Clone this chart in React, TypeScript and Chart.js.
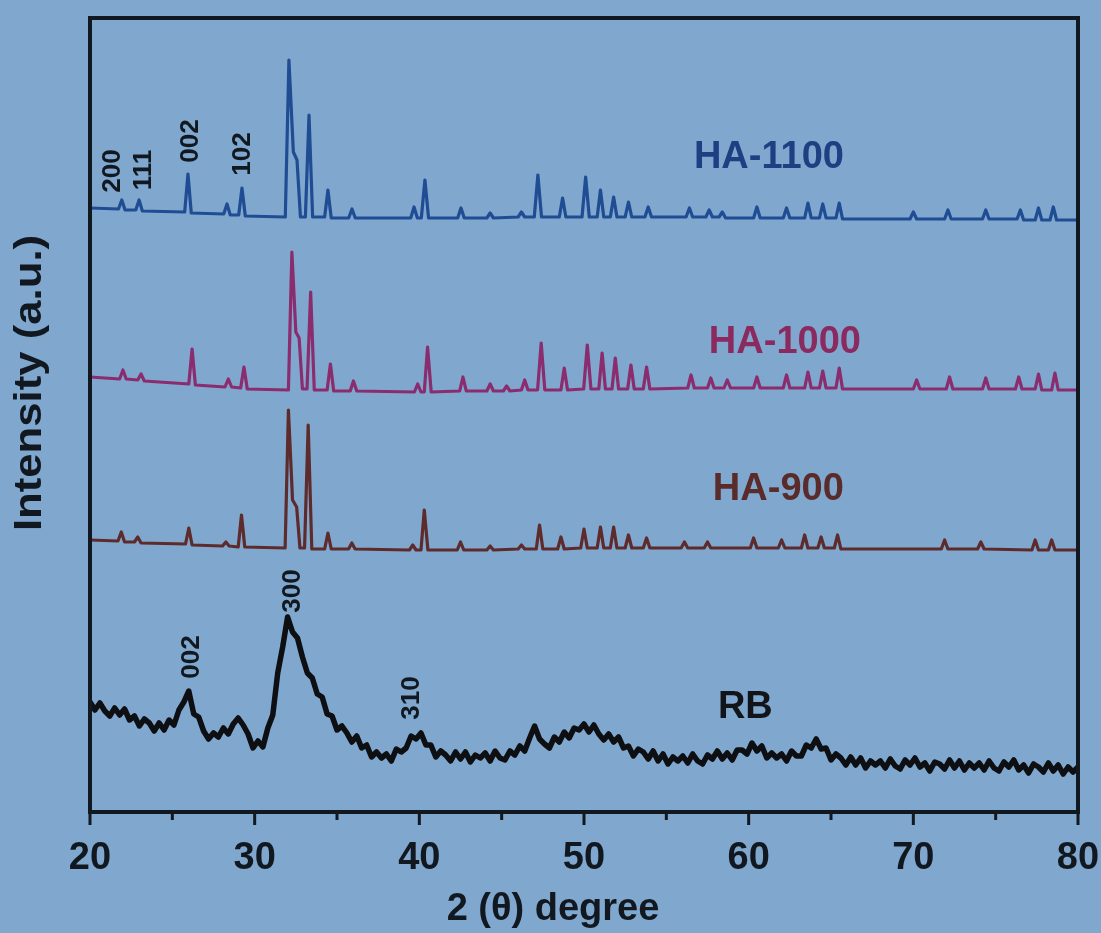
import React, { useEffect, useRef } from 'react';
import { Chart, registerables } from 'chart.js';

Chart.register(...registerables);

// ---------- axis settings ----------
const X_MIN = 20;
const X_MAX = 80;
const Y_MIN = 0;
const Y_MAX = 794;
const xMajorTicks = [20, 30, 40, 50, 60, 70, 80];
const xMinorTicks = [25, 35, 45, 55, 65, 75];
const X_TITLE = '2 (θ) degree';
const Y_TITLE = 'Intensity (a.u.)';

// ---------- series data: [2θ, intensity (a.u., stacked offset)] ----------
const ha1100: [number, number][] = [
  [20, 604], [21.73, 603], [21.93, 612], [22.13, 602], [22.78, 602], [22.98, 612], [23.18, 601],
  [25.75, 600], [25.95, 638], [26.15, 599], [28.12, 598], [28.32, 608], [28.52, 597],
  [29.03, 597], [29.23, 624], [29.43, 596], [31.86, 595], [32.08, 752], [32.35, 660], [32.57, 652],
  [32.78, 595], [33.08, 595], [33.3, 697], [33.52, 595], [34.25, 595], [34.45, 622], [34.65, 594],
  [35.71, 594], [35.91, 603], [36.11, 594], [39.48, 594], [39.68, 605], [39.88, 594],
  [40.12, 594], [40.34, 632], [40.56, 594], [42.33, 594], [42.53, 604], [42.73, 594],
  [44.1, 594], [44.3, 599], [44.5, 594], [46.0, 595], [46.2, 600], [46.4, 595],
  [46.98, 595], [47.2, 637], [47.42, 595], [48.5, 595], [48.7, 614], [48.9, 595],
  [49.88, 595], [50.1, 635], [50.32, 595], [50.8, 595], [51.0, 622], [51.2, 595],
  [51.6, 595], [51.8, 615], [52.0, 595], [52.5, 595], [52.7, 610], [52.9, 595],
  [53.7, 595], [53.9, 605], [54.1, 595], [56.2, 595], [56.4, 604], [56.6, 595],
  [57.4, 595], [57.6, 602], [57.8, 595], [58.2, 595], [58.4, 600], [58.6, 594],
  [60.3, 594], [60.5, 605], [60.7, 594], [62.1, 594], [62.3, 604], [62.5, 594],
  [63.4, 594], [63.6, 609], [63.8, 594], [64.3, 594], [64.5, 608], [64.7, 594],
  [65.3, 594], [65.5, 609], [65.7, 593], [69.8, 593], [70.0, 600], [70.2, 593],
  [71.9, 593], [72.1, 602], [72.3, 593], [74.2, 593], [74.4, 602], [74.6, 593],
  [76.3, 593], [76.5, 602], [76.7, 592], [77.4, 592], [77.6, 604], [77.8, 592],
  [78.3, 592], [78.5, 605], [78.7, 592], [80, 592],
];

const ha1000: [number, number][] = [
  [20, 435], [21.8, 433], [22.0, 442], [22.2, 433], [22.9, 432], [23.1, 438], [23.3, 431],
  [26.0, 428], [26.2, 463], [26.4, 427], [28.2, 425], [28.4, 433], [28.6, 425],
  [29.15, 424], [29.35, 445], [29.55, 423], [32.05, 422], [32.26, 560], [32.5, 480], [32.7, 474],
  [32.9, 423], [33.18, 423], [33.4, 520], [33.62, 422], [34.4, 422], [34.6, 448], [34.8, 421],
  [35.8, 421], [36.0, 431], [36.2, 421], [39.7, 420], [39.9, 428], [40.1, 420],
  [40.3, 420], [40.5, 465], [40.72, 420], [42.45, 421], [42.65, 435], [42.85, 421],
  [44.1, 421], [44.3, 428], [44.5, 421], [45.1, 421], [45.3, 426], [45.5, 421],
  [46.2, 422], [46.4, 432], [46.6, 422], [47.18, 422], [47.4, 469], [47.62, 422],
  [48.6, 422], [48.8, 444], [49.0, 422], [49.98, 423], [50.2, 467], [50.42, 423],
  [50.9, 423], [51.1, 459], [51.3, 423], [51.7, 423], [51.9, 454], [52.1, 423],
  [52.65, 423], [52.85, 447], [53.05, 423], [53.6, 423], [53.8, 445], [54.0, 423],
  [56.3, 424], [56.5, 437], [56.7, 424], [57.5, 424], [57.7, 434], [57.9, 424],
  [58.5, 424], [58.7, 432], [58.9, 424], [60.3, 424], [60.5, 435], [60.7, 424],
  [62.1, 424], [62.3, 437], [62.5, 424], [63.4, 424], [63.6, 440], [63.8, 424],
  [64.3, 424], [64.5, 441], [64.7, 424], [65.3, 424], [65.5, 444], [65.7, 423],
  [70.0, 423], [70.2, 432], [70.4, 423], [72.0, 423], [72.2, 435], [72.4, 423],
  [74.2, 423], [74.4, 434], [74.6, 423], [76.2, 423], [76.4, 435], [76.6, 423],
  [77.4, 423], [77.6, 438], [77.8, 422], [78.4, 422], [78.6, 439], [78.8, 422], [80, 422],
];

const ha900: [number, number][] = [
  [20, 272], [21.7, 271], [21.9, 280], [22.1, 270], [22.7, 270], [22.9, 275], [23.1, 269],
  [25.8, 268], [26.0, 284], [26.2, 267], [28.05, 266], [28.25, 270], [28.45, 266],
  [29.0, 265], [29.2, 297], [29.4, 265], [31.85, 264], [32.05, 402], [32.3, 312], [32.55, 305],
  [32.75, 264], [33.03, 264], [33.25, 387], [33.47, 263], [34.25, 263], [34.45, 279], [34.65, 263],
  [35.7, 263], [35.9, 269], [36.1, 263], [39.4, 262], [39.6, 267], [39.8, 262],
  [40.1, 262], [40.3, 302], [40.52, 262], [42.3, 262], [42.5, 270], [42.7, 262],
  [44.1, 262], [44.3, 266], [44.5, 262], [46.0, 263], [46.2, 267], [46.4, 263],
  [47.1, 263], [47.3, 287], [47.5, 263], [48.4, 263], [48.6, 275], [48.8, 263],
  [49.8, 264], [50.0, 283], [50.2, 264], [50.8, 264], [51.0, 285], [51.2, 264],
  [51.6, 264], [51.8, 285], [52.0, 264], [52.5, 264], [52.7, 277], [52.9, 264],
  [53.6, 264], [53.8, 274], [54.0, 264], [55.9, 264], [56.1, 270], [56.3, 264],
  [57.3, 264], [57.5, 270], [57.7, 264], [60.1, 264], [60.3, 274], [60.5, 264],
  [61.8, 264], [62.0, 272], [62.2, 264], [63.2, 264], [63.4, 277], [63.6, 264],
  [64.2, 264], [64.4, 275], [64.6, 264], [65.2, 264], [65.4, 277], [65.6, 263],
  [71.7, 263], [71.9, 272], [72.1, 263], [73.9, 263], [74.1, 270], [74.3, 263],
  [77.2, 262], [77.4, 272], [77.6, 262], [78.2, 262], [78.4, 272], [78.6, 262], [80, 262],
];

const rb: [number, number][] = [
  [20.0, 110], [20.3, 102], [20.6, 109], [20.9, 101], [21.2, 96], [21.5, 104], [21.8, 97], [22.1, 103],
  [22.4, 92], [22.7, 96], [23.0, 86], [23.3, 93], [23.6, 89], [23.9, 81], [24.2, 89], [24.5, 82],
  [24.8, 92], [25.1, 87], [25.4, 102], [25.7, 110], [26.0, 121], [26.3, 98], [26.6, 95], [26.9, 81],
  [27.2, 73], [27.5, 79], [27.8, 75], [28.1, 84], [28.4, 78], [28.7, 88], [29.0, 94], [29.3, 87],
  [29.6, 78], [29.9, 64], [30.2, 71], [30.5, 65], [30.8, 84], [31.1, 97], [31.4, 139], [31.7, 165],
  [32.0, 195], [32.3, 180], [32.6, 174], [32.9, 155], [33.2, 139], [33.5, 134], [33.8, 118], [34.1, 115],
  [34.4, 98], [34.7, 96], [35.0, 82], [35.3, 86], [35.6, 79], [35.9, 70], [36.2, 76], [36.5, 64],
  [36.8, 67], [37.1, 55], [37.4, 60], [37.7, 54], [38.0, 58], [38.3, 51], [38.6, 63], [38.9, 60],
  [39.2, 64], [39.5, 76], [39.8, 73], [40.1, 79], [40.4, 67], [40.7, 67], [41.0, 55], [41.3, 61],
  [41.6, 57], [41.9, 51], [42.2, 60], [42.5, 53], [42.8, 60], [43.1, 50], [43.4, 57], [43.7, 54],
  [44.0, 59], [44.3, 51], [44.6, 61], [44.9, 54], [45.2, 52], [45.5, 61], [45.8, 57], [46.1, 66],
  [46.4, 61], [46.7, 74], [47.0, 86], [47.3, 73], [47.6, 68], [47.9, 64], [48.2, 75], [48.5, 70],
  [48.8, 80], [49.1, 74], [49.4, 84], [49.7, 82], [50.0, 88], [50.3, 80], [50.6, 87], [50.9, 78],
  [51.2, 72], [51.5, 78], [51.8, 70], [52.1, 75], [52.4, 64], [52.7, 66], [53.0, 56], [53.3, 63],
  [53.6, 60], [53.9, 53], [54.2, 61], [54.5, 51], [54.8, 58], [55.1, 48], [55.4, 55], [55.7, 51],
  [56.0, 56], [56.3, 49], [56.6, 58], [56.9, 51], [57.2, 48], [57.5, 57], [57.8, 53], [58.1, 61],
  [58.4, 53], [58.7, 59], [59.0, 52], [59.3, 62], [59.6, 62], [59.9, 58], [60.2, 69], [60.5, 61],
  [60.8, 66], [61.1, 54], [61.4, 59], [61.7, 54], [62.0, 58], [62.3, 51], [62.6, 61], [62.9, 56],
  [63.2, 56], [63.5, 67], [63.8, 64], [64.1, 73], [64.4, 63], [64.7, 64], [65.0, 52], [65.3, 58],
  [65.6, 54], [65.9, 47], [66.2, 55], [66.5, 47], [66.8, 54], [67.1, 44], [67.4, 51], [67.7, 47],
  [68.0, 51], [68.3, 44], [68.6, 53], [68.9, 46], [69.2, 43], [69.5, 52], [69.8, 47], [70.1, 54],
  [70.4, 45], [70.7, 49], [71.0, 41], [71.3, 50], [71.6, 48], [71.9, 43], [72.2, 52], [72.5, 44],
  [72.8, 51], [73.1, 42], [73.4, 49], [73.7, 44], [74.0, 49], [74.3, 42], [74.6, 51], [74.9, 44],
  [75.2, 41], [75.5, 50], [75.8, 45], [76.1, 52], [76.4, 42], [76.7, 47], [77.0, 39], [77.3, 48],
  [77.6, 45], [77.9, 40], [78.2, 49], [78.5, 41], [78.8, 47], [79.1, 38], [79.4, 45], [79.7, 40],
  [80.0, 45],
];

const seriesNames = ['HA-1100', 'HA-1000', 'HA-900', 'RB'];
const seriesData = [ha1100, ha1000, ha900, rb];

// label text and their anchor in data coordinates
const seriesLabelText = ['HA-1100', 'HA-1000', 'HA-900', 'RB'];
const seriesLabelX = [61.23, 62.2, 61.8, 59.8];
const seriesLabelY = [654, 469, 322, 104];

const peakLabelText = ['200', '111', '002', '102', '002', '300', '310'];
const peakLabelX = [21.4, 23.25, 26.1, 29.3, 26.2, 32.3, 39.55];
const peakLabelY = [641, 642, 671, 658, 155, 221, 114];

// ---------- styles ----------
const BG = '#80a8cf';
const lineColors = ['#1f4c93', '#8a2c6e', '#5e2b2c', '#0d0f12'];
const lineWidths = [3.2, 3.2, 3.2, 5.5];
const labelColors = ['#1e3f82', '#8b2a5f', '#5a2b2b', '#111418'];
const INK = '#111820';
const FONT = "'Liberation Sans', Arial, Helvetica, sans-serif";

const decorPlugin = {
  id: 'decor',
  beforeDraw(chart: any) {
    const { ctx, width, height } = chart;
    ctx.save();
    ctx.fillStyle = BG;
    ctx.fillRect(0, 0, width, height);
    ctx.restore();
  },
  afterDraw(chart: any) {
    const { ctx, chartArea: a, scales } = chart;
    const xs = scales.x;
    const ys = scales.y;
    ctx.save();
    // frame
    ctx.strokeStyle = INK;
    ctx.lineWidth = 4;
    ctx.strokeRect(a.left, a.top, a.right - a.left, a.bottom - a.top);
    // ticks
    ctx.lineWidth = 3;
    ctx.beginPath();
    for (const v of xMajorTicks) {
      const px = xs.getPixelForValue(v);
      ctx.moveTo(px, a.bottom);
      ctx.lineTo(px, a.bottom + 13);
    }
    for (const v of xMinorTicks) {
      const px = xs.getPixelForValue(v);
      ctx.moveTo(px, a.bottom);
      ctx.lineTo(px, a.bottom + 8);
    }
    ctx.stroke();

    // series labels
    ctx.textAlign = 'center';
    ctx.textBaseline = 'middle';
    ctx.font = `bold 38px ${FONT}`;
    seriesLabelText.forEach((t, i) => {
      ctx.fillStyle = labelColors[i];
      ctx.fillText(t, xs.getPixelForValue(seriesLabelX[i]), ys.getPixelForValue(seriesLabelY[i]));
    });

    // peak (hkl) labels, rotated
    ctx.font = `bold 26px ${FONT}`;
    ctx.fillStyle = INK;
    peakLabelText.forEach((t, i) => {
      ctx.save();
      ctx.translate(xs.getPixelForValue(peakLabelX[i]), ys.getPixelForValue(peakLabelY[i]));
      ctx.rotate(-Math.PI / 2);
      ctx.fillText(t, 0, 0);
      ctx.restore();
    });

    // x axis title
    ctx.font = `bold 38px ${FONT}`;
    ctx.fillStyle = INK;
    ctx.fillText(X_TITLE, 553, 910);

    // y axis title
    ctx.save();
    ctx.translate(31, 383);
    ctx.rotate(-Math.PI / 2);
    ctx.scale(1.15, 1);
    ctx.font = `bold 38px ${FONT}`;
    ctx.fillStyle = INK;
    ctx.fillText(Y_TITLE, 0, 0);
    ctx.restore();

    ctx.restore();
  },
};

export default function App() {
  const canvasRef = useRef<HTMLCanvasElement | null>(null);

  useEffect(() => {
    if (!canvasRef.current) return;
    const chart = new Chart(canvasRef.current, {
      type: 'line',
      data: {
        datasets: seriesData.map((s, i) => ({
          label: seriesNames[i],
          data: s.map(([x, y]) => ({ x, y })),
          borderColor: lineColors[i],
          backgroundColor: lineColors[i],
          borderWidth: lineWidths[i],
          pointRadius: 0,
          tension: 0,
          fill: false,
          borderJoinStyle: 'round',
        })),
      },
      options: {
        animation: false,
        responsive: true,
        maintainAspectRatio: false,
        layout: { padding: { top: 18, right: 23, left: 0, bottom: 0 } },
        plugins: { legend: { display: false }, tooltip: { enabled: false } },
        scales: {
          x: {
            type: 'linear',
            min: X_MIN,
            max: X_MAX,
            afterBuildTicks: (s: any) => {
              s.ticks = xMajorTicks.map((v) => ({ value: v }));
            },
            ticks: {
              font: { family: FONT, size: 38, weight: 'bold' },
              color: INK,
              padding: 24,
              autoSkip: false,
              maxRotation: 0,
            },
            grid: { display: false, drawTicks: false },
            border: { display: false },
            title: { display: false },
            afterFit: (s: any) => {
              s.height = 121;
              s.paddingLeft = 0;
              s.paddingRight = 0;
            },
          },
          y: {
            type: 'linear',
            min: Y_MIN,
            max: Y_MAX,
            ticks: { display: false },
            grid: { display: false, drawTicks: false },
            border: { display: false },
            afterFit: (s: any) => {
              s.width = 90;
              s.paddingTop = 0;
              s.paddingBottom = 0;
            },
          },
        },
      } as any,
      plugins: [decorPlugin],
    });
    return () => chart.destroy();
  }, []);

  return (
    <div style={{ position: 'fixed', left: 0, top: 0, width: 1101, height: 933 }}>
      <canvas ref={canvasRef} />
    </div>
  );
}
